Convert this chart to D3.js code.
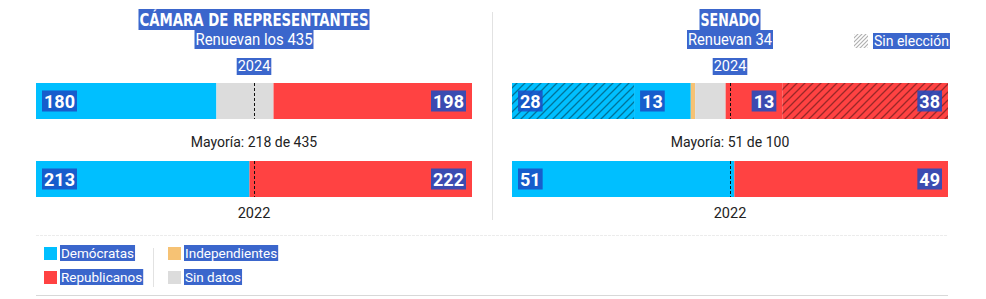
<!DOCTYPE html>
<html>
<head>
<meta charset="utf-8">
<script src="https://cdn.jsdelivr.net/npm/d3@7"></script>
<style>
  body { margin: 0; background: #fff; }
</style>
</head>
<body>
<div id="chart"></div>
<script>
// Panel texts
const panelTitles = ["CÁMARA DE REPRESENTANTES", "SENADO"];
const panelSubtitles = ["Renuevan los 435", "Renuevan 34"];
const seatTotals = [435, 100];
const majorityLabels = ["Mayoría: 218 de 435", "Mayoría: 51 de 100"];
const years = ["2024", "2022"];

// Seats per segment, in this order
const segmentKeys = ["demSin", "dem", "ind", "sinDatos", "rep", "repSin"];
const house2024 = [0, 180, 0, 57, 198, 0];
const house2022 = [0, 213, 0, 0, 222, 0];
const senate2024 = [28, 13, 1, 7, 13, 38];
const senate2022 = [0, 51, 0, 0, 49, 0];

// Legend
const legendKeys = ["dem", "rep", "ind", "sinDatos"];
const legendLabels = ["Demócratas", "Republicanos", "Independientes", "Sin datos"];
const hatchLabel = "Sin elección";

const colors = {
  dem: "#00bfff",
  demSin: "#00bfff",
  rep: "#ff4242",
  repSin: "#ff4242",
  ind: "#f6c274",
  sinDatos: "#dcdcdc",
};
const hlColor = "rgba(27,77,196,0.86)";
const titleFont = "'DejaVu Sans Condensed', 'Liberation Sans Narrow', sans-serif";
const bodyFont = "Roboto, 'Open Sans', sans-serif";
// rendered widths of the condensed headings (style only)
const titleWidths = [229, 59];
const subtitleWidths = [117, 84];

const width = 986,
  height = 299;

const svg = d3
  .select("#chart")
  .append("svg")
  .attr("width", width)
  .attr("height", height);

const defs = svg.append("defs");
defs
  .append("pattern")
  .attr("id", "hatch")
  .attr("patternUnits", "userSpaceOnUse")
  .attr("width", 8)
  .attr("height", 8)
  .append("path")
  .attr("d", "M-2,2 L2,-2 M0,8 L8,0 M6,10 L10,6")
  .attr("stroke", "rgba(0,0,0,0.4)")
  .attr("stroke-width", 1.3);
defs
  .append("pattern")
  .attr("id", "hatchGrey")
  .attr("patternUnits", "userSpaceOnUse")
  .attr("width", 4)
  .attr("height", 4)
  .append("path")
  .attr("d", "M-1,1 L1,-1 M0,4 L4,0 M3,5 L5,3")
  .attr("stroke", "#b0b0b0")
  .attr("stroke-width", 1.2);

// wrap a text in the blue selection box
function highlight(sel, padX = 1) {
  sel.each(function () {
    const b = this.getBBox();
    d3.select(this.parentNode)
      .insert("rect", () => this)
      .attr("x", b.x - padX)
      .attr("y", b.y)
      .attr("width", b.width + padX * 2)
      .attr("height", b.height)
      .attr("fill", hlColor);
  });
}

const panelRanges = [
  [36, 472],
  [512, 948],
];
const barData = [
  [house2024, house2022],
  [senate2024, senate2022],
];
const barY = d3.scaleOrdinal().domain(years).range([83, 161]);
const barH = 36;

panelRanges.forEach((range, p) => {
  const g = svg.append("g");
  const cx = (range[0] + range[1]) / 2;
  const x = d3.scaleLinear().domain([0, seatTotals[p]]).range(range);

  const title = g
    .append("text")
    .attr("x", cx)
    .attr("y", 26)
    .attr("text-anchor", "middle")
    .attr("textLength", titleWidths[p])
    .attr("lengthAdjust", "spacingAndGlyphs")
    .style("font-family", titleFont)
    .style("font-weight", "bold")
    .style("font-size", "18px")
    .attr("fill", "#fff")
    .text(panelTitles[p]);
  highlight(title);

  const sub = g
    .append("text")
    .attr("x", cx)
    .attr("y", 45)
    .attr("text-anchor", "middle")
    .attr("textLength", subtitleWidths[p])
    .attr("lengthAdjust", "spacingAndGlyphs")
    .style("font-family", bodyFont)
    .style("font-size", "16.5px")
    .attr("fill", "#fff")
    .text(panelSubtitles[p]);
  highlight(sub);

  const yr = g
    .append("text")
    .attr("x", cx)
    .attr("y", 71)
    .attr("text-anchor", "middle")
    .style("font-family", bodyFont)
    .style("font-size", "14.5px")
    .attr("fill", "#fff")
    .text(years[0]);
  highlight(yr);

  years.forEach((year, i) => {
    const values = barData[p][i];
    const ends = d3.cumsum(values);
    const segs = segmentKeys.map((key, k) => ({
      key: key,
      value: values[k],
      x0: x(ends[k] - values[k]),
      x1: x(ends[k]),
    }));
    const y = barY(year);

    g.selectAll(null)
      .data(segs.filter((d) => d.value > 0))
      .join("rect")
      .attr("x", (d) => d.x0)
      .attr("y", y)
      .attr("width", (d) => d.x1 - d.x0)
      .attr("height", barH)
      .attr("fill", (d) => colors[d.key]);

    g.selectAll(null)
      .data(segs.filter((d) => d.value > 0 && d.key.endsWith("Sin")))
      .join("rect")
      .attr("x", (d) => d.x0)
      .attr("y", y)
      .attr("width", (d) => d.x1 - d.x0)
      .attr("height", barH)
      .attr("fill", "url(#hatch)");

    // majority line
    g.append("line")
      .attr("x1", Math.round(x(seatTotals[p] / 2)) + 0.5)
      .attr("x2", Math.round(x(seatTotals[p] / 2)) + 0.5)
      .attr("y1", y)
      .attr("y2", y + barH)
      .attr("stroke", "#111")
      .attr("stroke-width", 1)
      .attr("stroke-dasharray", "3,2");

    const labelled = segs.filter(
      (d) => d.value > 0 && (d.key.startsWith("dem") || d.key.startsWith("rep"))
    );
    g.selectAll(null)
      .data(labelled)
      .join("text")
      .attr("x", (d) => (d.key.startsWith("dem") ? d.x0 + 8 : d.x1 - 8))
      .attr("y", y + barH / 2 + 6.5)
      .attr("text-anchor", (d) => (d.key.startsWith("dem") ? "start" : "end"))
      .style("font-family", bodyFont)
      .style("font-weight", "bold")
      .style("font-size", "18px")
      .attr("fill", "#fff")
      .text((d) => d.value)
      .call(highlight, 2);
  });

  g.append("text")
    .attr("x", cx)
    .attr("y", 147)
    .attr("text-anchor", "middle")
    .style("font-family", bodyFont)
    .style("font-size", "14px")
    .attr("fill", "#222")
    .text(majorityLabels[p]);

  g.append("text")
    .attr("x", cx)
    .attr("y", 218)
    .attr("text-anchor", "middle")
    .style("font-family", bodyFont)
    .style("font-size", "14.5px")
    .attr("fill", "#222")
    .text(years[1]);
});

// "Sin elección" key
svg
  .append("rect")
  .attr("x", 854)
  .attr("y", 34)
  .attr("width", 14)
  .attr("height", 14)
  .attr("fill", "url(#hatchGrey)");
svg
  .append("text")
  .attr("x", 874)
  .attr("y", 46)
  .style("font-family", bodyFont)
  .style("font-size", "14px")
  .attr("fill", "#fff")
  .text(hatchLabel)
  .call(highlight);

// separators
svg
  .append("line")
  .attr("x1", 492.5)
  .attr("x2", 492.5)
  .attr("y1", 12)
  .attr("y2", 220)
  .attr("stroke", "#e2e2e2");
svg
  .append("line")
  .attr("x1", 36)
  .attr("x2", 948)
  .attr("y1", 235.5)
  .attr("y2", 235.5)
  .attr("stroke", "#ececec")
  .attr("stroke-dasharray", "3,1");
svg
  .append("line")
  .attr("x1", 36)
  .attr("x2", 948)
  .attr("y1", 295.5)
  .attr("y2", 295.5)
  .attr("stroke", "#d8d8d8");

// legend
const legX = d3.scaleOrdinal().domain([0, 1]).range([44, 168]);
const legY = d3.scaleOrdinal().domain([0, 1]).range([247, 271]);
const legend = svg
  .selectAll(".leg")
  .data(legendKeys)
  .join("g")
  .attr("class", "leg")
  .attr(
    "transform",
    (d, i) => `translate(${legX(Math.floor(i / 2))},${legY(i % 2)})`
  );
legend
  .append("rect")
  .attr("width", 13)
  .attr("height", 13)
  .attr("fill", (d) => colors[d]);
legend
  .append("text")
  .attr("x", 17)
  .attr("y", 11)
  .style("font-family", bodyFont)
  .style("font-size", "13.5px")
  .attr("fill", "#fff")
  .text((d, i) => legendLabels[i])
  .call(highlight);
svg
  .append("line")
  .attr("x1", 153.5)
  .attr("x2", 153.5)
  .attr("y1", 248)
  .attr("y2", 287)
  .attr("stroke", "#e2e2e2");
</script>
</body>
</html>
